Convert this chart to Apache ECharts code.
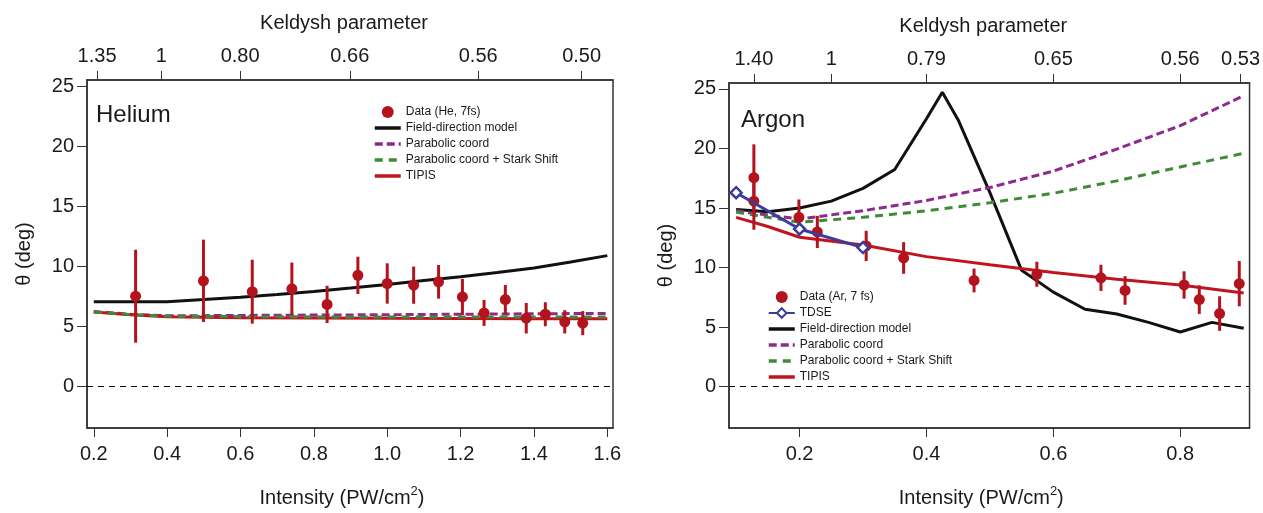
<!DOCTYPE html>
<html><head><meta charset="utf-8">
<script src="https://cdn.jsdelivr.net/npm/echarts@6/dist/echarts.min.js"></script>
<style>html,body{margin:0;padding:0;background:#fff}#c{width:1263px;height:513px}</style>
</head><body><div id="c"></div>
<script>
// ---------- Helium panel ----------
const heI     = [0.314, 0.499, 0.632, 0.740, 0.836, 0.920, 1.000, 1.072, 1.140, 1.205, 1.264, 1.322, 1.379, 1.431, 1.484, 1.533];
const heTheta = [7.50, 8.78, 7.88, 8.12, 6.82, 9.24, 8.56, 8.42, 8.70, 7.44, 6.11, 7.22, 5.67, 6.00, 5.37, 5.26];
const heErr   = [3.87, 3.43, 2.66, 2.18, 1.55, 1.55, 1.68, 1.55, 1.40, 1.50, 1.08, 1.22, 1.27, 1.00, 0.97, 1.00];
const heFieldI = [0.2, 0.3, 0.4, 0.5, 0.6, 0.7, 0.8, 0.9, 1.0, 1.1, 1.2, 1.3, 1.4, 1.5, 1.6];
const heField  = [7.03, 7.03, 7.05, 7.22, 7.42, 7.65, 7.90, 8.18, 8.48, 8.80, 9.12, 9.47, 9.85, 10.35, 10.88];
const heModelI   = [0.2, 0.3, 0.4, 0.6, 0.8, 1.0, 1.2, 1.4, 1.6];
const heParab    = [6.22, 6.00, 5.87, 5.90, 5.93, 5.96, 6.00, 6.04, 6.07];
const heStark    = [6.19, 5.98, 5.83, 5.80, 5.78, 5.78, 5.78, 5.78, 5.78];
const heTipis    = [6.19, 5.96, 5.80, 5.70, 5.68, 5.66, 5.65, 5.63, 5.62];
const heBottomTicks = [0.2, 0.4, 0.6, 0.8, 1.0, 1.2, 1.4, 1.6];
const heTopTickPos  = [0.209, 0.384, 0.599, 0.898, 1.248, 1.530];
const heTopLabels   = ['1.35', '1', '0.80', '0.66', '0.56', '0.50'];

// ---------- Argon panel ----------
const arI     = [0.128, 0.128, 0.199, 0.228, 0.305, 0.364, 0.475, 0.574, 0.675, 0.713, 0.806, 0.830, 0.862, 0.893];
const arTheta = [17.55, 15.58, 14.22, 12.99, 11.82, 10.81, 8.92, 9.44, 9.14, 8.08, 8.54, 7.31, 6.14, 8.65];
const arErr   = [2.80, 2.40, 1.50, 1.35, 1.27, 1.33, 1.00, 1.05, 1.10, 1.20, 1.15, 1.20, 1.45, 1.90];
const arTdseI = [0.1, 0.2, 0.3];
const arTdse  = [16.29, 13.24, 11.68];
const arFieldI = [0.1, 0.15, 0.2, 0.25, 0.3, 0.35, 0.4, 0.425, 0.45, 0.5, 0.55, 0.6, 0.65, 0.7, 0.75, 0.8, 0.85, 0.9];
const arField  = [14.87, 14.68, 15.0, 15.58, 16.65, 18.23, 22.5, 24.73, 22.4, 16.3, 9.77, 7.94, 6.5, 6.1, 5.4, 4.59, 5.4, 4.91];
const arModelI = [0.1, 0.15, 0.2, 0.3, 0.4, 0.5, 0.6, 0.7, 0.8, 0.9];
const arParab  = [14.77, 14.41, 14.08, 14.77, 15.64, 16.73, 18.10, 19.95, 21.92, 24.43];
const arStark  = [14.66, 14.22, 13.81, 14.22, 14.77, 15.45, 16.24, 17.28, 18.45, 19.60];
const arTipis  = [14.22, 13.45, 12.55, 11.90, 10.92, 10.23, 9.58, 9.03, 8.54, 7.86];
const arBottomTicks = [0.2, 0.4, 0.6, 0.8];
const arTopTickPos  = [0.128, 0.250, 0.400, 0.600, 0.800, 0.895];
const arTopLabels   = ['1.40', '1', '0.79', '0.65', '0.56', '0.53'];

const yTicks = [0, 5, 10, 15, 20, 25];
const zeroLine = 0;

const heLegend = ['Data (He, 7fs)', 'Field-direction model', 'Parabolic coord', 'Parabolic coord + Stark Shift', 'TIPIS'];
const arLegend = ['Data (Ar, 7 fs)', 'TDSE', 'Field-direction model', 'Parabolic coord', 'Parabolic coord + Stark Shift', 'TIPIS'];
const lineOnlyNames = ['Field-direction model', 'Parabolic coord', 'Parabolic coord + Stark Shift', 'TIPIS'];

// ---------- styles ----------
const FONT = '"Liberation Sans", Arial, Helvetica, sans-serif';
const TXT = '#1a1a1a';
const AX = '#333';
const C_DATA = '#b3131c', C_TIPIS = '#c0151f', C_PAR = '#8c2b8c', C_STARK = '#3f8a36', C_TDSE = '#3a3d9a', C_BLK = '#111';

const zip = (xs, ys) => xs.map((x, i) => [x, ys[i]]);
const zip3 = (xs, ys, es) => xs.map((x, i) => [x, ys[i], es[i]]);

function legendItems(names) {
  return names.map(n => lineOnlyNames.indexOf(n) >= 0
    ? { name: n, itemStyle: { opacity: 0, color: 'rgba(0,0,0,0)', borderColor: 'rgba(0,0,0,0)', borderWidth: 0 }, lineStyle: { width: 3.5 } }
    : { name: n });
}

function bottomAxis(grid, min, max, ticks) {
  return {
    type: 'value', gridIndex: grid, position: 'bottom', min, max,
    name: '{n|Intensity (PW/cm}{s|2}{n|)}', nameLocation: 'middle', nameGap: 57,
    nameTextStyle: { padding: [0, 16, 0, 0], rich: {
      n: { fontSize: 20, fontFamily: FONT, color: TXT, lineHeight: 26 },
      s: { fontSize: 13, fontFamily: FONT, color: TXT, lineHeight: 13, verticalAlign: 'top' } } },
    axisLine: { show: true, onZero: false, lineStyle: { color: AX, width: 1.5 } },
    axisTick: { show: true, inside: false, length: 9, customValues: ticks, lineStyle: { color: AX, width: 1 } },
    axisLabel: { customValues: ticks, margin: 16, fontSize: 20, fontFamily: FONT, color: TXT, formatter: v => v.toFixed(1) },
    splitLine: { show: false }
  };
}
function topAxis(grid, min, max, pos, labels) {
  return {
    type: 'value', gridIndex: grid, position: 'top', min, max,
    name: 'Keldysh parameter', nameLocation: 'middle', nameGap: 47,
    nameTextStyle: { fontSize: 20, fontFamily: FONT, color: TXT, padding: [0, 12, 0, 0] },
    axisLine: { show: true, onZero: false, lineStyle: { color: AX, width: 1.5 } },
    axisTick: { show: true, inside: false, length: 9, customValues: pos, lineStyle: { color: AX, width: 1 } },
    axisLabel: { customValues: pos, margin: 14, fontSize: 20, fontFamily: FONT, color: TXT,
      formatter: (v) => { let bi = 0, bd = 1e9; pos.forEach((p, i) => { const d = Math.abs(p - v); if (d < bd) { bd = d; bi = i; } }); return labels[bi]; } },
    splitLine: { show: false }
  };
}
function yAxis(grid) {
  return {
    type: 'value', gridIndex: grid, min: -3.47, max: 25.5,
    name: 'θ (deg)', nameLocation: 'middle', nameGap: 53, nameRotate: 90,
    nameTextStyle: { fontSize: 20, fontFamily: FONT, color: TXT },
    axisLine: { show: true, onZero: false, lineStyle: { color: AX, width: 1.5 } },
    axisTick: { show: true, inside: false, length: 10, customValues: yTicks, lineStyle: { color: AX, width: 1 } },
    axisLabel: { customValues: yTicks, margin: 13, fontSize: 20, fontFamily: FONT, color: TXT },
    splitLine: { show: false }
  };
}
function lineSeries(name, xi, yi, data, color, type, extra) {
  return Object.assign({
    type: 'line', name, xAxisIndex: xi, yAxisIndex: yi, data, symbol: 'none', showSymbol: false,
    color, lineStyle: { color, width: 3, type }, z: 2, silent: true
  }, extra || {});
}
function errSeries(xi, yi, data) {
  return {
    type: 'custom', name: 'err' + xi, xAxisIndex: xi, yAxisIndex: yi, data, z: 3, silent: true,
    encode: { x: 0, y: [1] },
    renderItem: (params, api) => {
      const x = api.value(0), y = api.value(1), e = api.value(2);
      const p1 = api.coord([x, y - e]), p2 = api.coord([x, y + e]);
      return { type: 'line', shape: { x1: p1[0], y1: p1[1], x2: p2[0], y2: p2[1] },
        style: { stroke: C_DATA, lineWidth: 3 } };
    }
  };
}
const zeroMark = {
  silent: true, symbol: ['none', 'none'], label: { show: false },
  lineStyle: { color: '#000', type: [6, 5], width: 1, opacity: 1 }, emphasis: { disabled: true },
  data: [{ yAxis: zeroLine }]
};

const option = {
  animation: false,
  backgroundColor: '#fff',
  textStyle: { fontFamily: FONT },
  grid: [
    { left: 87, top: 80, width: 526, height: 354, show: true, borderColor: AX, borderWidth: 1.5, containLabel: false },
    { left: 729, top: 83, width: 526, height: 354, show: true, borderColor: AX, borderWidth: 1.5, containLabel: false }
  ],
  title: [
    { text: 'Helium', left: 96, top: 103, padding: 0, textStyle: { fontSize: 24, fontWeight: 'normal', fontFamily: FONT, color: TXT } },
    { text: 'Argon', left: 741, top: 108, padding: 0, textStyle: { fontSize: 24, fontWeight: 'normal', fontFamily: FONT, color: TXT } }
  ],
  legend: [
    { data: legendItems(heLegend), orient: 'vertical', left: 373, top: 106, itemWidth: 26, itemHeight: 12, itemGap: 4, padding: 0,
      selectedMode: false, textStyle: { fontSize: 12, lineHeight: 12, fontFamily: FONT, color: TXT } },
    { data: legendItems(arLegend), orient: 'vertical', left: 767, top: 291, itemWidth: 26, itemHeight: 12, itemGap: 4, padding: 0,
      selectedMode: false, textStyle: { fontSize: 12, lineHeight: 12, fontFamily: FONT, color: TXT } }
  ],
  xAxis: [
    bottomAxis(0, 0.1815, 1.6155, heBottomTicks),
    topAxis(0, 0.1815, 1.6155, heTopTickPos, heTopLabels),
    bottomAxis(1, 0.0888, 0.9092, arBottomTicks),
    topAxis(1, 0.0888, 0.9092, arTopTickPos, arTopLabels)
  ],
  yAxis: [yAxis(0), yAxis(1)],
  series: [
    // Helium
    lineSeries('Field-direction model', 0, 0, zip(heFieldI, heField), C_BLK, 'solid', { markLine: zeroMark }),
    lineSeries('Parabolic coord', 0, 0, zip(heModelI, heParab), C_PAR, [8, 4]),
    lineSeries('TIPIS', 0, 0, zip(heModelI, heTipis), C_TIPIS, 'solid'),
    lineSeries('Parabolic coord + Stark Shift', 0, 0, zip(heModelI, heStark), C_STARK, [8, 6]),
    errSeries(0, 0, zip3(heI, heTheta, heErr)),
    { type: 'scatter', name: 'Data (He, 7fs)', xAxisIndex: 0, yAxisIndex: 0, data: zip(heI, heTheta),
      symbol: 'circle', symbolSize: 11, itemStyle: { color: C_DATA, opacity: 1 }, z: 4, silent: true },
    // Argon
    lineSeries('Field-direction model', 2, 1, zip(arFieldI, arField), C_BLK, 'solid', { markLine: zeroMark }),
    lineSeries('Parabolic coord', 2, 1, zip(arModelI, arParab), C_PAR, [8, 4]),
    lineSeries('Parabolic coord + Stark Shift', 2, 1, zip(arModelI, arStark), C_STARK, [8, 6]),
    lineSeries('TIPIS', 2, 1, zip(arModelI, arTipis), C_TIPIS, 'solid'),
    errSeries(2, 1, zip3(arI, arTheta, arErr)),
    { type: 'scatter', name: 'Data (Ar, 7 fs)', xAxisIndex: 2, yAxisIndex: 1, data: zip(arI, arTheta),
      symbol: 'circle', symbolSize: 11, itemStyle: { color: C_DATA, opacity: 1 }, z: 4, silent: true },
    { type: 'line', name: 'TDSE', xAxisIndex: 2, yAxisIndex: 1, data: zip(arTdseI, arTdse),
      symbol: 'diamond', symbolSize: 11, showSymbol: true, color: C_TDSE,
      lineStyle: { color: C_TDSE, width: 3 }, itemStyle: { color: '#fff', borderColor: C_TDSE, borderWidth: 2.5 },
      z: 5, silent: true }
  ]
};

const chart = echarts.init(document.getElementById('c'), null, { renderer: 'canvas' });
chart.setOption(option);
</script>
</body></html>
